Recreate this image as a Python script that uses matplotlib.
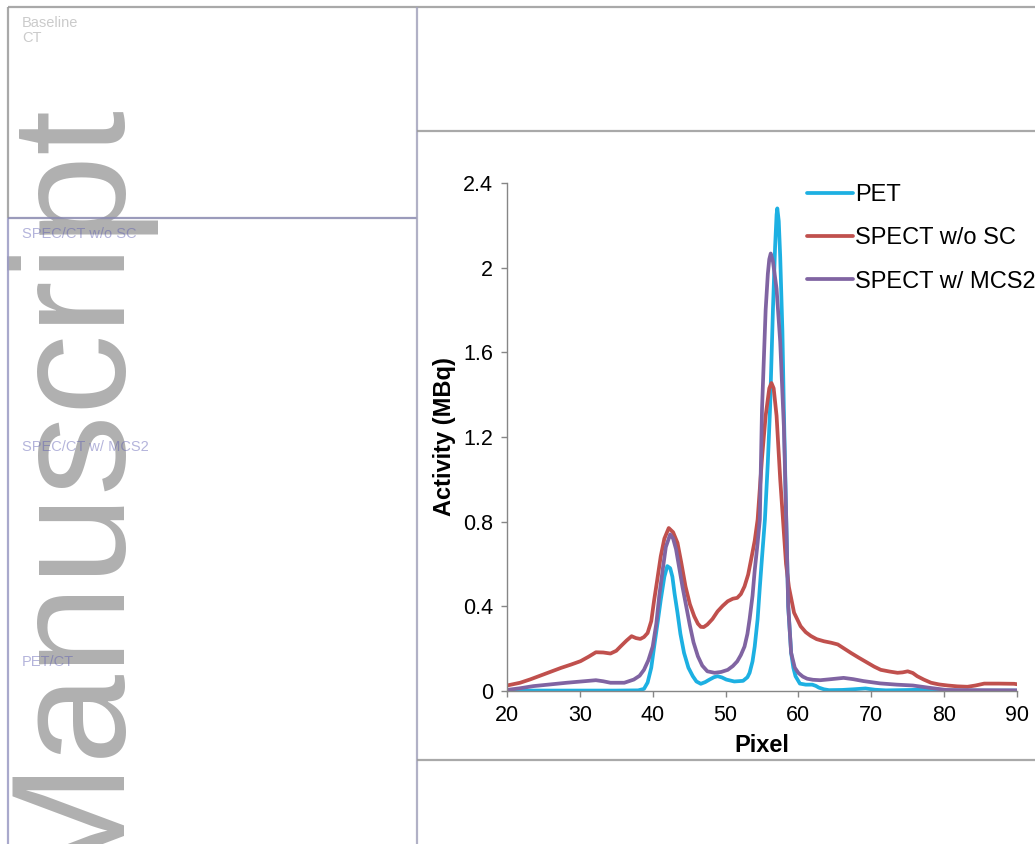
import numpy as np
import matplotlib.pyplot as plt

plt.rcParams['font.family'] = ['Liberation Sans', 'DejaVu Sans']

# --- profile data ---
pet_x = [20, 25, 30, 35, 38, 38.8, 39.3, 39.8, 40.2, 40.7, 41.1, 41.6, 42.0, 42.4, 42.7,
         43.0, 43.4, 43.8, 44.3, 44.9, 45.5, 46.0, 46.6, 47.2, 47.8, 48.4, 48.9, 49.5, 50.1,
         51.2, 52.4, 53.0, 53.3, 53.7, 54.0, 54.4, 54.7, 55.0, 55.4, 55.8, 56.1, 56.5, 56.8,
         57.0, 57.1, 57.3, 57.5, 57.8, 58.0, 58.3, 58.6, 59.0, 59.3, 59.6, 60.2, 61.0, 61.9,
         62.4, 62.8, 63.5, 64.2, 66, 67.5, 69.2, 70.5, 72, 75.5, 77.4, 79, 82, 90]
pet_y = [0.002, 0.002, 0.002, 0.002, 0.003, 0.01, 0.04, 0.11, 0.21, 0.33, 0.43, 0.54, 0.59,
         0.58, 0.54, 0.46, 0.37, 0.27, 0.18, 0.11, 0.07, 0.045, 0.034, 0.042, 0.054, 0.065,
         0.07, 0.064, 0.054, 0.045, 0.048, 0.065, 0.086, 0.14, 0.21, 0.34, 0.49, 0.63, 0.81,
         1.08, 1.33, 1.8, 2.1, 2.25, 2.28, 2.22, 2.05, 1.7, 1.33, 0.85, 0.4, 0.18, 0.11, 0.07,
         0.035, 0.03, 0.03, 0.024, 0.016, 0.008, 0.004, 0.005, 0.008, 0.012, 0.006, 0.003,
         0.005, 0.008, 0.003, 0.002, 0.002]

red_x = [20, 21.8, 23.2, 24.6, 26.0, 27.4, 28.8, 30.1, 31.2, 32.2, 33.2, 34.2, 35.0, 35.6,
         36.4, 37.1, 37.7, 38.3, 38.8, 39.3, 39.8, 40.2, 40.6, 41.1, 41.6, 42.2, 42.8, 43.4,
         43.9, 44.5, 45.1, 45.7, 46.2, 46.6, 47.0, 47.5, 48.2, 48.9, 49.6, 50.3, 51.0, 51.6,
         52.1, 52.6, 53.1, 53.5, 54.0, 54.4, 55.0, 55.5, 56.0, 56.3, 56.6, 57.0, 57.5, 58.0,
         58.3, 58.7, 59.4, 60.3, 61.0, 61.7, 62.5, 63.5, 64.5, 65.4, 66.3, 67.2, 68.3, 69.5,
         70.4, 71.3, 72.5, 73.6, 74.3, 75.0, 75.7, 76.3, 77.2, 78.2, 79.3, 80.5, 81.8, 83.2,
         84.3, 85.5, 87.5, 89.6, 90]
red_y = [0.026, 0.039, 0.055, 0.073, 0.091, 0.109, 0.125, 0.141, 0.162, 0.183, 0.182, 0.177,
         0.19, 0.211, 0.238, 0.259, 0.25, 0.246, 0.255, 0.274, 0.33, 0.43, 0.52, 0.636, 0.72,
         0.77, 0.75, 0.70, 0.61, 0.494, 0.41, 0.353, 0.318, 0.303, 0.302, 0.314, 0.34, 0.376,
         0.402, 0.424, 0.436, 0.44, 0.458, 0.494, 0.55, 0.62, 0.71, 0.81, 1.1, 1.3, 1.43,
         1.455, 1.43, 1.3, 1.0, 0.75, 0.6, 0.49, 0.37, 0.306, 0.278, 0.26, 0.245, 0.235, 0.228,
         0.22, 0.2, 0.18, 0.157, 0.133, 0.115, 0.10, 0.092, 0.086, 0.088, 0.093, 0.085, 0.07,
         0.054, 0.039, 0.031, 0.026, 0.022, 0.02, 0.026, 0.035, 0.035, 0.034, 0.032]

mcs_x = [20, 21.8, 23.6, 25.9, 28.2, 30.2, 32.2, 33.2, 34.2, 36.1, 37.4, 38.2, 38.8, 39.4,
         40.0, 40.5, 40.9, 41.4, 41.8, 42.4, 42.8, 43.2, 43.6, 44.1, 44.6, 45.1, 45.6, 46.2,
         46.8, 47.5, 48.5, 49.4, 50.3, 51.0, 51.6, 52.1, 52.6, 53.0, 53.3, 53.7, 54.0, 54.4,
         54.7, 55.0, 55.5, 55.8, 56.0, 56.2, 56.5, 57.0, 57.5, 58.0, 58.3, 58.6, 59.0, 59.5,
         60.0, 60.6, 61.2, 62.0, 63.0, 64.5, 66.2, 67.5, 68.9, 71.2, 73.5, 75.7, 78.0, 80.3,
         82, 90]
mcs_y = [0.005, 0.013, 0.023, 0.031, 0.039, 0.045, 0.051, 0.046, 0.039, 0.039, 0.054, 0.072,
         0.10, 0.145, 0.21, 0.32, 0.45, 0.58, 0.68, 0.74, 0.72, 0.67, 0.59, 0.49, 0.40, 0.31,
         0.23, 0.164, 0.12, 0.093, 0.086, 0.09, 0.10, 0.118, 0.14, 0.17, 0.21, 0.27, 0.34,
         0.45, 0.57, 0.70, 0.81, 1.33, 1.8, 1.97, 2.04, 2.067, 2.03, 1.9, 1.65, 1.25, 0.85,
         0.4, 0.18, 0.11, 0.085, 0.068, 0.058, 0.053, 0.051, 0.056, 0.062, 0.056, 0.047, 0.036,
         0.03, 0.026, 0.015, 0.005, 0.004, 0.003]

series_names = ['PET', 'SPECT w/o SC', 'SPECT w/ MCS2']
series_colors = ['#1DB0E2', '#C0504D', '#8064A2']
panel_labels = ['Baseline\nCT', 'SPEC/CT w/o SC', 'SPEC/CT w/ MCS2', 'PET/CT']

W, H = 1035, 844
fig = plt.figure(figsize=(W / 100, H / 100), dpi=100)

# background page layer in pixel coordinates
bg = fig.add_axes([0, 0, 1, 1])
bg.set_xlim(0, W)
bg.set_ylim(H, 0)
bg.axis('off')

bg.text(112, 884, 'Manuscript', rotation=90, rotation_mode='anchor', ha='left',
        va='baseline', fontsize=116, color='#B0B0B0', family='Liberation Sans', zorder=1)

gray = '#9A9A9A'
lav = '#9A9AC4'
page_lines = [
    ((8, 1035), (7, 7), gray),
    ((8, 8), (7, 218), gray),
    ((8, 8), (218, 844), lav),
    ((8, 417), (218, 218), '#8A8AB0'),
    ((417, 417), (7, 844), '#A4A4BC'),
    ((417, 1035), (131, 131), gray),
    ((417, 1035), (760, 760), gray),
]
for xs, ys, c in page_lines:
    bg.plot(xs, ys, color=c, lw=1.6, alpha=0.85, zorder=3, solid_capstyle='butt')

label_y = [16, 227, 440, 655]
label_cols = ['#8C8C8C', '#5A5AB0', '#5A5AB0', '#5A5AB0']
for txt, yy, c in zip(panel_labels, label_y, label_cols):
    bg.text(22, yy, txt, ha='left', va='top', fontsize=10.5, color=c, alpha=0.45,
            linespacing=1.05, zorder=4)

# chart
ax = fig.add_axes([507 / W, 1 - 691 / H, 510 / W, 508 / H])
ax.patch.set_alpha(0)
for xs, ys, name, c in zip([pet_x, red_x, mcs_x], [pet_y, red_y, mcs_y],
                           series_names, series_colors):
    ax.plot(xs, ys, color=c, lw=2.7, label=name, solid_joinstyle='round',
            solid_capstyle='round')

ax.set_xlim(20, 90)
ax.set_ylim(0, 2.4)
ax.set_xticks(np.arange(20, 91, 10))
ax.set_yticks([0, 0.4, 0.8, 1.2, 1.6, 2.0, 2.4])
ax.set_yticklabels(['0', '0.4', '0.8', '1.2', '1.6', '2', '2.4'])
for s in ['top', 'right']:
    ax.spines[s].set_visible(False)
for s in ['left', 'bottom']:
    ax.spines[s].set_color('#868686')
    ax.spines[s].set_linewidth(1.0)
ax.tick_params(axis='both', direction='out', length=4, width=1, color='#868686',
               labelsize=15.5, pad=6)
ax.set_xlabel('Pixel', fontsize=17, fontweight='bold', labelpad=6)
ax.set_ylabel('Activity (MBq)', fontsize=17, fontweight='bold', labelpad=5)

ax.legend(loc='upper left', bbox_to_anchor=(807 / W, 1 - 184 / H),
          bbox_transform=fig.transFigure, frameon=False, fontsize=17,
          handlelength=1.95, handletextpad=0.1, labelspacing=0.9,
          borderpad=0, borderaxespad=0)

fig.savefig('out.png', dpi=100)
